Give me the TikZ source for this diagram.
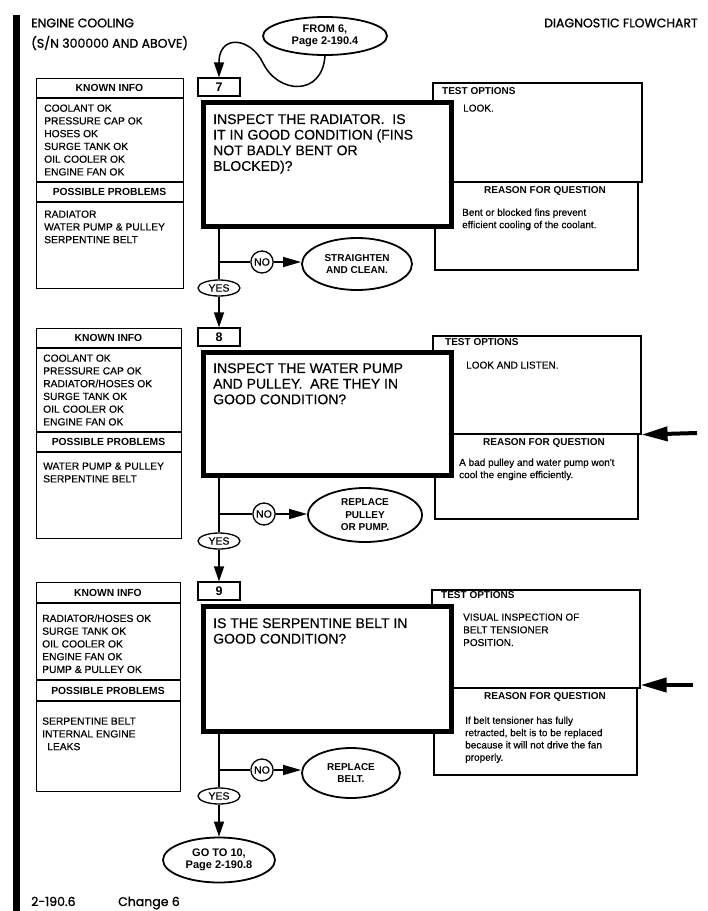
\documentclass[tikz,border=0pt]{standalone}
\usepackage{fontspec}
\setmainfont{Liberation Sans}
\newfontfamily\hdr[FakeBold=1.2]{Poppins}
\newfontfamily\bodyfont[FakeBold=0.4]{Liberation Sans}
\usetikzlibrary{arrows.meta,shapes.geometric}
\tikzset{
  frame/.style={draw, line width=1.2pt, inner sep=0pt, anchor=north west, fill=white},
  optbox/.style={draw, line width=1.6pt, inner sep=0pt, anchor=north west, fill=white},
  qbox/.style={draw, line width=4.5pt, inner sep=0pt, anchor=north west, fill=white},
  numbox/.style={draw, line width=1.2pt, inner sep=0pt, minimum width=42pt, minimum height=18pt, fill=white, font=\bfseries\fontsize{12.5}{13}\selectfont},
  listtxt/.style={anchor=north west, inner sep=0pt, align=left, font=\bodyfont\fontsize{10.3}{12.75}\selectfont},
  headtxt/.style={inner sep=0pt, font=\bfseries\fontsize{10.3}{12}\selectfont},
  qtxt/.style={anchor=north west, inner sep=0pt, align=left, font=\bodyfont\fontsize{14}{15.6}\selectfont},
  opthead/.style={anchor=west, inner sep=0pt, font=\bfseries\fontsize{10}{12}\selectfont},
  opttxt/.style={anchor=north west, inner sep=0pt, align=left, font=\bodyfont\fontsize{10}{12.7}\selectfont},
  rsntxt/.style={anchor=north west, inner sep=0pt, align=left, font=\bodyfont\fontsize{10}{12.3}\selectfont},
  oval/.style={ellipse, draw, line width=1.8pt, inner sep=0pt, align=center, fill=white, font=\bfseries\fontsize{10}{12.5}\selectfont},
  linkoval/.style={ellipse, draw, line width=1.8pt, inner sep=0pt, align=center, fill=white, font=\bfseries\fontsize{11}{12}\selectfont},
  yesno/.style={ellipse, draw, line width=1.3pt, inner sep=0pt, fill=white, font=\bodyfont\fontsize{10.5}{10.5}\selectfont},
  hdrtxt/.style={inner sep=0pt, font=\hdr\fontsize{12.5}{14}\selectfont},
  conn/.style={line width=1.5pt},
  arr/.style={line width=1.5pt, -{Triangle[length=15pt,width=10pt]}},
  noarr/.style={line width=1.5pt, -{Triangle[length=18pt,width=10pt]}},
  bigarr/.style={line width=4pt, -{Triangle[length=26pt,width=14pt]}},
}
\begin{document}
\begin{tikzpicture}[x=1pt,y=-1pt]
\useasboundingbox (0,0) rectangle (708,911);
\fill[white] (0,0) rectangle (708,911);
% left margin bar
\fill[black] (13,15) rectangle (20,911);

% header
\node[hdrtxt, anchor=west] (title1) at (31,23) {ENGINE COOLING};
\node[hdrtxt, anchor=west] (title2) at (31,43) {(S/N 300000 AND ABOVE)};
\node[hdrtxt, anchor=east] (title3) at (698,23) {DIAGNOSTIC FLOWCHART};

% ================= BLOCK 7 =================
\node[frame, minimum width=147pt, minimum height=210pt] (k7) at (36,78) {};
\draw[line width=1.2pt] (36,98) -- (183,98) (36,182) -- (183,182) (36,202) -- (183,202);
\node[headtxt] (k7h) at (109.5,88) {KNOWN INFO};
\node[listtxt] (k7l) at (44,104.3) {COOLANT OK\\PRESSURE CAP OK\\HOSES OK\\SURGE TANK OK\\OIL COOLER OK\\ENGINE FAN OK};
\node[headtxt] (p7h) at (109.5,192) {POSSIBLE PROBLEMS};
\node[listtxt] (p7l) at (44,210.3) {RADIATOR\\WATER PUMP \& PULLEY\\SERPENTINE BELT};

\node[optbox, minimum width=209pt, minimum height=99pt] (t7) at (432,82) {};
\node[optbox, minimum width=203pt, minimum height=88pt] (r7) at (434,181) {};
\node[opthead] (t7h) at (442,91) {TEST OPTIONS};
\node[opttxt] (t7t) at (463,104.4) {LOOK.};
\node[headtxt, font=\bfseries\fontsize{10}{12}\selectfont] (r7h) at (545,191) {REASON FOR QUESTION};
\node[rsntxt] (r7t) at (462,208.4) {Bent or blocked fins prevent\\efficient cooling of the coolant.};

\node[qbox, minimum width=248pt, minimum height=124pt] (m7) at (201,100) {};
\node[qtxt] (m7t) at (213,114) {INSPECT THE RADIATOR.\ \ IS\\IT IN GOOD CONDITION (FINS\\NOT BADLY BENT OR\\BLOCKED)?};
\node[numbox] (n7) at (219,87) {7};

\node[linkoval, minimum width=124pt, minimum height=38pt] (from6) at (325,36) {FROM 6,\\Page 2-190.4};
\draw[arr] (from6.south) .. controls (322,97) and (278,94) .. (263,63) .. controls (251,38) and (221,34) .. (219,60) -- (n7.north);

\node[yesno, minimum width=42pt, minimum height=16pt] (yes7) at (219,288) {YES};
\node[yesno, minimum size=22pt] (no7) at (262,262) {NO};
\node[oval, minimum width=110pt, minimum height=52pt] (act7) at (357,264) {STRAIGHTEN\\AND CLEAN.};
\coordinate (j7) at (219,262);
\draw[conn] (m7.south -| j7) -- (yes7.north);
\draw[conn] (j7) -- (no7.west);
\draw[noarr] (no7.east) -- (no7 -| act7.west);

% ================= BLOCK 8 =================
\node[frame, minimum width=145pt, minimum height=210pt] (k8) at (36,328) {};
\draw[line width=1.2pt] (36,348) -- (181,348) (36,432) -- (181,432) (36,452) -- (181,452);
\node[headtxt] (k8h) at (108.5,338) {KNOWN INFO};
\node[listtxt] (k8l) at (43,354.3) {COOLANT OK\\PRESSURE CAP OK\\RADIATOR/HOSES OK\\SURGE TANK OK\\OIL COOLER OK\\ENGINE FAN OK};
\node[headtxt] (p8h) at (108.5,442) {POSSIBLE PROBLEMS};
\node[listtxt] (p8l) at (43,462.3) {WATER PUMP \& PULLEY\\SERPENTINE BELT};

\node[optbox, minimum width=208pt, minimum height=98pt] (t8) at (432,335) {};
\node[optbox, minimum width=203pt, minimum height=85pt] (r8) at (434,433) {};
\node[opthead] (t8h) at (445,342) {TEST OPTIONS};
\node[opttxt] (t8t) at (466,361.4) {LOOK AND LISTEN.};
\node[headtxt, font=\bfseries\fontsize{10}{12}\selectfont] (r8h) at (544,443) {REASON FOR QUESTION};
\node[rsntxt] (r8t) at (459,458.4) {A bad pulley and water pump won't\\cool the engine efficiently.};

\node[qbox, minimum width=248pt, minimum height=123pt] (m8) at (201,350) {};
\node[qtxt] (m8t) at (213,363) {INSPECT THE WATER PUMP\\AND PULLEY.\ \ ARE THEY IN\\GOOD CONDITION?};
\node[numbox] (n8) at (219,337) {8};
\draw[arr] (yes7.south) -- (n8.north);

\coordinate (a8) at (697,433);
\draw[bigarr] (a8) -- (t8.south east);

\node[yesno, minimum width=42pt, minimum height=16pt] (yes8) at (219,541) {YES};
\node[yesno, minimum size=22pt] (no8) at (264,514) {NO};
\node[oval, minimum width=114pt, minimum height=54pt] (act8) at (365,515) {REPLACE\\PULLEY\\OR PUMP.};
\coordinate (j8) at (219,514);
\draw[conn] (m8.south -| j8) -- (yes8.north);
\draw[conn] (j8) -- (no8.west);
\draw[noarr] (no8.east) -- (no8 -| act8.west);

% ================= BLOCK 9 =================
\node[frame, minimum width=144pt, minimum height=209pt] (k9) at (36,582) {};
\draw[line width=1.2pt] (36,603) -- (180,603) (36,680) -- (180,680) (36,701) -- (180,701);
\node[headtxt] (k9h) at (108,593) {KNOWN INFO};
\node[listtxt] (k9l) at (42,614.3) {RADIATOR/HOSES OK\\SURGE TANK OK\\OIL COOLER OK\\ENGINE FAN OK\\PUMP \& PULLEY OK};
\node[headtxt] (p9h) at (108,691) {POSSIBLE PROBLEMS};
\node[listtxt] (p9l) at (42,717.3) {SERPENTINE BELT\\INTERNAL ENGINE\\\hspace*{5pt}LEAKS};

\node[optbox, minimum width=208pt, minimum height=98pt] (t9) at (431,589) {};
\node[optbox, minimum width=203pt, minimum height=87pt] (r9) at (433,687) {};
\node[opthead] (t9h) at (441,595) {TEST OPTIONS};
\node[opttxt] (t9t) at (463,613.4) {VISUAL INSPECTION OF\\BELT TENSIONER\\POSITION.};
\node[headtxt, font=\bfseries\fontsize{10}{12}\selectfont] (r9h) at (545,697) {REASON FOR QUESTION};
\node[rsntxt] (r9t) at (465,716.4) {If belt tensioner has fully\\retracted, belt is to be replaced\\because it will not drive the fan\\properly.};

\node[qbox, minimum width=248pt, minimum height=125pt] (m9) at (201,604) {};
\node[qtxt] (m9t) at (213,618) {IS THE SERPENTINE BELT IN\\GOOD CONDITION?};
\node[numbox] (n9) at (219,591) {9};
\draw[arr] (yes8.south) -- (n9.north);

\coordinate (a9) at (693,685);
\draw[bigarr] (a9) -- (a9 -| t9.east);

\node[yesno, minimum width=42pt, minimum height=16pt] (yes9) at (219,796) {YES};
\node[yesno, minimum size=22pt] (no9) at (262,770) {NO};
\node[oval, minimum width=98pt, minimum height=50pt] (act9) at (351,773) {REPLACE\\BELT.};
\coordinate (j9) at (219,770);
\draw[conn] (m9.south -| j9) -- (yes9.north);
\draw[conn] (j9) -- (no9.west);
\draw[noarr] (no9.east) -- (no9 -| act9.west);

\node[linkoval, minimum width=112pt, minimum height=45pt] (goto10) at (219,860) {GO TO 10,\\Page 2-190.8};
\draw[arr] (yes9.south) -- (goto10.north);

% footer
\node[hdrtxt, anchor=base west] (pgno) at (31,906) {2-190.6};
\node[hdrtxt, anchor=base west] (chg) at (118,906) {Change 6};
\end{tikzpicture}
\end{document}
